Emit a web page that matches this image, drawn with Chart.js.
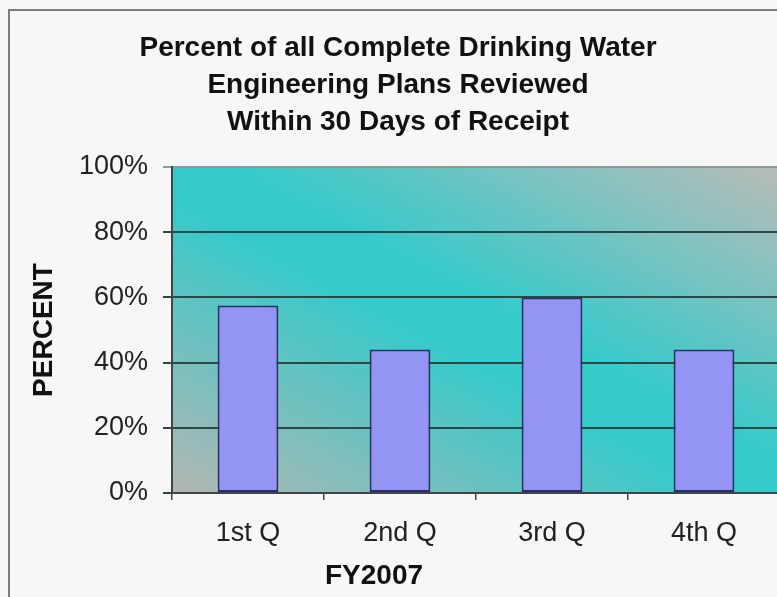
<!DOCTYPE html>
<html lang="en">
<head>
<meta charset="UTF-8">
<title>Drinking Water Engineering Plans Reviewed</title>
<script src="https://cdn.jsdelivr.net/npm/chart.js"></script>
<style>
  html, body { margin: 0; padding: 0; overflow: hidden; background: #f7f7f7; }
  canvas { display: block; }
</style>
</head>
<body>
<canvas id="reviewChart" width="797" height="597"></canvas>
<script>
const quarters = ['1st Q', '2nd Q', '3rd Q', '4th Q'];
const pctReviewed = [57.5, 44, 60, 44];
const yTicks = [0, 20, 40, 60, 80, 100];
const titleLines = [
  'Percent of all Complete Drinking Water',
  'Engineering Plans Reviewed',
  'Within 30 Days of Receipt'
];
const yAxisTitle = 'PERCENT';
const xAxisTitle = 'FY2007';

const FONT = "'Liberation Sans', Arial, Helvetica, sans-serif";

// page background, outer frame and the teal/grey diagonal fill of the plot area
const backdrop = {
  id: 'backdrop',
  beforeDraw(chart) {
    const ctx = chart.ctx;
    const { left, top, right, bottom } = chart.chartArea;
    ctx.save();
    ctx.fillStyle = '#f7f7f7';
    ctx.fillRect(0, 0, chart.width, chart.height);
    ctx.strokeStyle = '#7c7c7c';
    ctx.lineWidth = 2;
    ctx.strokeRect(9, 10, chart.width - 19, chart.height + 20);

    ctx.translate(left, top);
    ctx.scale(right - left, bottom - top);
    const g = ctx.createLinearGradient(0, 1, 1, 0);
    g.addColorStop(0, '#b3b6b2');
    g.addColorStop(0.45, '#36caca');
    g.addColorStop(0.55, '#36caca');
    g.addColorStop(1, '#babcb8');
    ctx.fillStyle = g;
    ctx.fillRect(0, 0, 1, 1);
    ctx.restore();
  }
};

// category axis caption sits left of the plot centre
const xCaption = {
  id: 'xCaption',
  afterDraw(chart) {
    const ctx = chart.ctx;
    ctx.save();
    ctx.font = 'bold 28px ' + FONT;
    ctx.fillStyle = '#111';
    ctx.textAlign = 'center';
    ctx.textBaseline = 'middle';
    ctx.fillText(xAxisTitle, 374, 576);
    ctx.restore();
  }
};

new Chart(document.getElementById('reviewChart'), {
  type: 'bar',
  data: {
    labels: quarters,
    datasets: [{
      data: pctReviewed,
      backgroundColor: '#9494f4',
      borderColor: '#2e2e66',
      borderWidth: 2,
      borderSkipped: false,
      categoryPercentage: 1,
      barPercentage: 0.4
    }]
  },
  options: {
    responsive: false,
    devicePixelRatio: 1,
    animation: false,
    layout: { padding: { left: 16, right: 17, top: 0, bottom: 0 } },
    plugins: {
      legend: { display: false },
      tooltip: { enabled: false },
      title: {
        display: true,
        text: titleLines,
        color: '#111',
        font: { family: FONT, size: 28, weight: 'bold', lineHeight: '37px' },
        padding: { top: 30, bottom: 26 }
      }
    },
    scales: {
      x: {
        afterFit(scale) { scale.height = 104; },
        grid: {
          drawOnChartArea: false,
          drawTicks: true,
          tickLength: 7,
          color: '#444',
          lineWidth: 1.5
        },
        border: { color: '#444', width: 2 },
        ticks: {
          color: '#222',
          padding: 17,
          font: { family: FONT, size: 27 }
        }
      },
      y: {
        min: 0,
        max: 100,
        afterFit(scale) { scale.width = 156; },
        afterBuildTicks(scale) { scale.ticks = yTicks.map(v => ({ value: v })); },
        grid: {
          color: ctx => ctx.tick && ctx.tick.value === 100 ? '#8c9a98' : '#2e4646',
          lineWidth: 2,
          tickLength: 9
        },
        border: { color: '#444', width: 2 },
        ticks: {
          color: '#222',
          padding: 15,
          font: { family: FONT, size: 27 },
          callback: v => v + '%'
        },
        title: {
          display: true,
          text: yAxisTitle,
          color: '#111',
          font: { family: FONT, size: 28, weight: 'bold' },
          padding: { top: 11, bottom: 0 }
        }
      }
    }
  },
  plugins: [backdrop, xCaption]
});
</script>
</body>
</html>
